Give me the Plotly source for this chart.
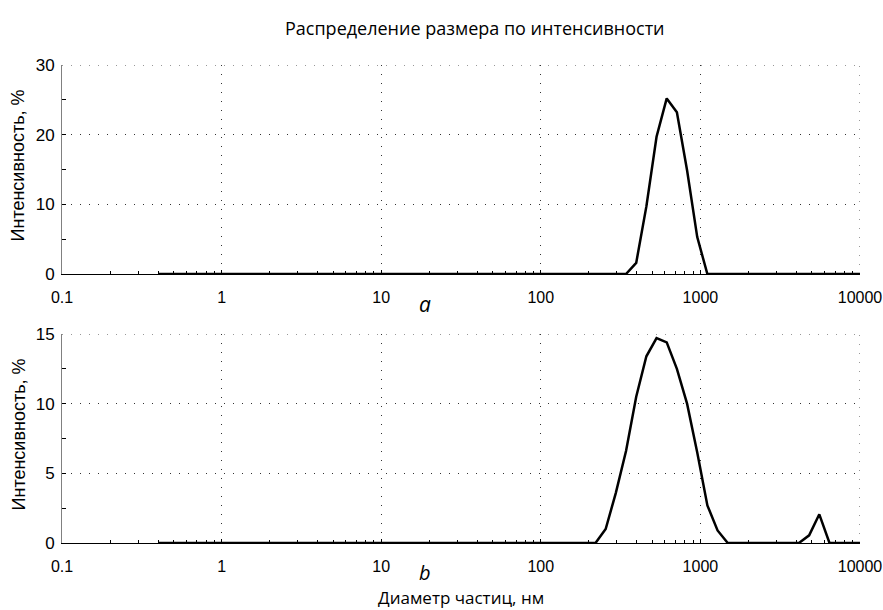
import plotly.graph_objects as go

W, H = 883, 610

sizes_nm = [0.4, 0.4632, 0.5365, 0.6213, 0.7195, 0.8332, 0.9649, 1.117, 1.294, 1.499,
            1.736, 2.01, 2.328, 2.696, 3.122, 3.615, 4.187, 4.849, 5.615, 6.503,
            7.531, 8.721, 10.1, 11.7, 13.54, 15.69, 18.17, 21.04, 24.36, 28.21,
            32.67, 37.84, 43.82, 50.75, 58.77, 68.06, 78.82, 91.28, 105.7, 122.4,
            141.8, 164.2, 190.1, 220.2, 255.0, 295.3, 342.0, 396.1, 458.7, 531.2,
            615.1, 712.4, 825.0, 955.4, 1106, 1281, 1484, 1718, 1990, 2305,
            2669, 3091, 3580, 4145, 4801, 5560, 6439, 7456, 8635, 10000]

intensity_a = [0, 0, 0, 0, 0, 0, 0, 0, 0, 0,
               0, 0, 0, 0, 0, 0, 0, 0, 0, 0,
               0, 0, 0, 0, 0, 0, 0, 0, 0, 0,
               0, 0, 0, 0, 0, 0, 0, 0, 0, 0,
               0, 0, 0, 0, 0, 0, 0, 1.6, 9.7, 19.7,
               25.2, 23.2, 14.9, 5.3, 0, 0, 0, 0, 0, 0,
               0, 0, 0, 0, 0, 0, 0, 0, 0, 0]

intensity_b = [0, 0, 0, 0, 0, 0, 0, 0, 0, 0,
               0, 0, 0, 0, 0, 0, 0, 0, 0, 0,
               0, 0, 0, 0, 0, 0, 0, 0, 0, 0,
               0, 0, 0, 0, 0, 0, 0, 0, 0, 0,
               0, 0, 0, 0, 1.0, 3.6, 6.6, 10.5, 13.4, 14.7,
               14.4, 12.5, 10.0, 6.5, 2.7, 0.9, 0, 0, 0, 0,
               0, 0, 0, 0, 0.55, 2.06, 0, 0, 0, 0]

x_tickvals = [0.1, 1, 10, 100, 1000, 10000]
x_ticktext = ["0.1", "1", "10", "100", "1000", "10000"]
ya_tickvals = [0, 10, 20, 30]
yb_tickvals = [0, 5, 10, 15]
x_range_nm = [0.1, 10000]
ya_max, yb_max = 30, 15

title_text = "Распределение размера по интенсивности"
ytitle_text = "Интенсивность, %"
xtitle_text = "Диаметр частиц, нм"
panel_labels = ["a", "b"]

# layout in pixels
PL, PR = 62, 860
A_TOP, A_BOT = 65, 274
B_TOP, B_BOT = 334, 543


def px_x(p):
    return p / W


def px_y(p):
    return 1 - p / H


fig = go.Figure()
fig.add_trace(go.Scatter(x=sizes_nm, y=intensity_a, mode="lines",
                         line=dict(color="black", width=2.5),
                         xaxis="x", yaxis="y", showlegend=False))
fig.add_trace(go.Scatter(x=sizes_nm, y=intensity_b, mode="lines",
                         line=dict(color="black", width=2.5),
                         xaxis="x2", yaxis="y2", showlegend=False))

GRID_COLOR = "#333333"
GRID_DASH = "1px,8px"
xtickfont = dict(family="Liberation Sans, Arial, sans-serif", size=16, color="black")
ytickfont = dict(family="Liberation Sans, Arial, sans-serif", size=17, color="black")
grid_common = dict(showgrid=True, gridcolor=GRID_COLOR, griddash=GRID_DASH, gridwidth=1)

xcommon = dict(type="log", range=[-1, 4], tickvals=x_tickvals, ticktext=x_ticktext,
               showline=True, linecolor="black", linewidth=1,
               ticks="inside", ticklen=4, tickcolor="black",
               minor=dict(ticks="inside", ticklen=3, tickcolor="black",
                          dtick="D1", showgrid=False),
               tickfont=xtickfont, zeroline=False, ticklabelstandoff=9,
               automargin=False,
               domain=[px_x(PL), px_x(PR)], **grid_common)

ycommon = dict(showline=True, linecolor="#808080", linewidth=1,
               ticks="inside", ticklen=4, tickcolor="black",
               tickfont=ytickfont, zeroline=False, ticklabelstandoff=3,
               automargin=False,
               **grid_common)

fig.update_layout(
    width=W, height=H,
    margin=dict(l=0, r=0, t=0, b=0, autoexpand=False),
    paper_bgcolor="white", plot_bgcolor="white",
    xaxis=dict(anchor="y", **xcommon),
    xaxis2=dict(anchor="y2", **xcommon),
    yaxis=dict(anchor="x", range=[0, ya_max], tickvals=ya_tickvals,
               minor=dict(ticks="inside", ticklen=4, tickcolor="black", dtick=5, showgrid=False),
               domain=[px_y(A_BOT), px_y(A_TOP)], **ycommon),
    yaxis2=dict(anchor="x2", range=[0, yb_max], tickvals=yb_tickvals,
                minor=dict(ticks="inside", ticklen=4, tickcolor="black", dtick=2.5, showgrid=False),
                domain=[px_y(B_BOT), px_y(B_TOP)], **ycommon),
)

# grid lines on the top and right edges of each panel (plotly skips edge grid lines)
shapes = []
for xr, yr, ymax in (("x", "y", ya_max), ("x2", "y2", yb_max)):
    gl = dict(color=GRID_COLOR, width=1, dash=GRID_DASH)
    shapes.append(dict(type="line", xref=xr, yref=yr, x0=x_range_nm[0], x1=x_range_nm[1],
                       y0=ymax, y1=ymax, line=gl, layer="below"))
    shapes.append(dict(type="line", xref=xr, yref=yr, x0=x_range_nm[1], x1=x_range_nm[1],
                       y0=0, y1=ymax, line=gl, layer="below"))
fig.update_layout(shapes=shapes)

ann_font = dict(family="Open Sans, Noto Sans, sans-serif", color="black")
annotations = [
    dict(text=title_text, x=px_x(475), y=px_y(28), font=dict(size=18, **ann_font)),
    dict(text=ytitle_text, x=px_x(18), y=px_y((A_TOP + A_BOT) / 2 - 4), textangle=-90,
         font=dict(family="Liberation Sans, Arial, sans-serif", size=18, color="black")),
    dict(text=ytitle_text, x=px_x(18), y=px_y((B_TOP + B_BOT) / 2 - 4), textangle=-90,
         font=dict(family="Liberation Sans, Arial, sans-serif", size=18, color="black")),
    dict(text="<i>" + panel_labels[0] + "</i>", x=px_x(425), y=px_y(304), font=dict(size=21, **ann_font)),
    dict(text="<i>" + panel_labels[1] + "</i>", x=px_x(425), y=px_y(572), font=dict(size=20, **ann_font)),
    dict(text=xtitle_text, x=px_x(461), y=px_y(597.5), font=dict(size=17, **ann_font)),
]
for a in annotations:
    a.update(xref="paper", yref="paper", showarrow=False, xanchor="center", yanchor="middle",
             borderpad=0)
fig.update_layout(annotations=annotations)

fig.write_html("out.html", config=dict(displayModeBar=False),
               post_script="document.body.style.margin='0';")
